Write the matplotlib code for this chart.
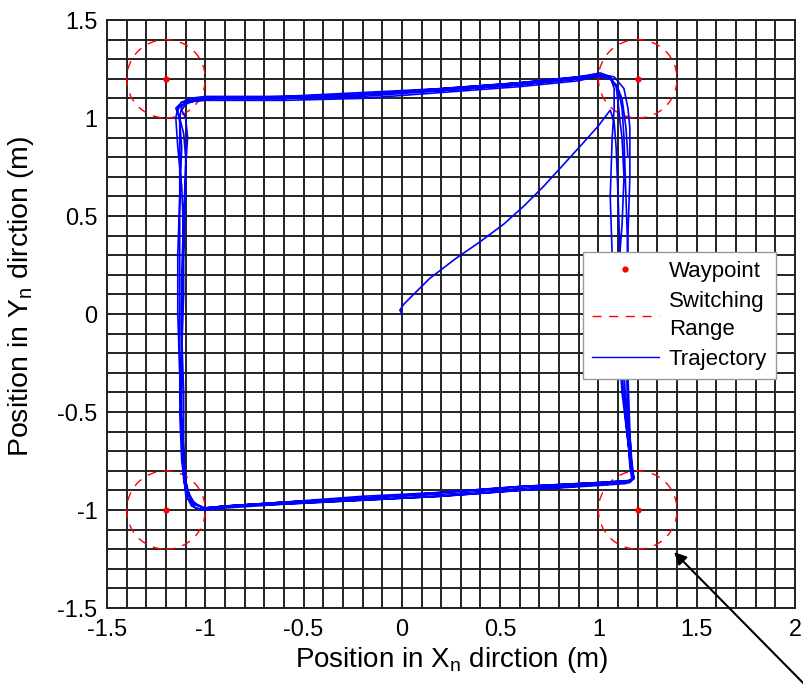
import numpy as np
import matplotlib.pyplot as plt
from matplotlib.patches import Circle
from matplotlib.lines import Line2D

plt.rcParams['font.family'] = ['Liberation Sans', 'DejaVu Sans']
plt.rcParams['axes.unicode_minus'] = False

# waypoints and switching range
wp_x = [-1.2, 1.2, 1.2, -1.2]
wp_y = [1.2, 1.2, -1.0, -1.0]
switch_r = 0.2

# start leg, from origin to the first waypoint
start_x = [0.0, -0.01, 0.01, 0.06, 0.14, 0.27, 0.40, 0.52, 0.62, 0.72, 0.82, 0.92, 1.00, 1.06]
start_y = [0.0, 0.02, 0.05, 0.10, 0.18, 0.28, 0.37, 0.46, 0.55, 0.65, 0.76, 0.87, 0.96, 1.04]

# laps around the square (clockwise)
lap1_x = [1.08, 1.09, 1.10, 1.11, 1.12, 1.13, 1.15, 1.16, 1.17, 1.14, 1.00, 0.60, 0.20, -0.20, -0.60, -0.90, -1.00,
          -1.05, -1.09, -1.11, -1.12, -1.13, -1.13, -1.13, -1.13, -1.13, -1.13, -1.12, -1.09, -1.00,
          -0.60, -0.20, 0.20, 0.60, 0.90, 1.00, 1.06, 1.10, 1.12]
lap1_y = [0.98, 0.85, 0.60, 0.30, 0.00, -0.30, -0.60, -0.78, -0.84, -0.865, -0.875, -0.90, -0.93, -0.95, -0.97, -0.99, -1.00,
          -0.99, -0.94, -0.85, -0.60, -0.30, 0.00, 0.30, 0.60, 0.85, 1.00, 1.06, 1.09, 1.10,
          1.10, 1.12, 1.14, 1.17, 1.20, 1.21, 1.20, 1.15, 1.05]

lap2_x = [1.13, 1.14, 1.15, 1.15, 1.15, 1.16, 1.17, 1.18, 1.15, 1.00, 0.60, 0.20, -0.20, -0.60, -0.90, -1.01,
          -1.06, -1.10, -1.12, -1.13, -1.12, -1.11, -1.11, -1.12, -1.14, -1.15, -1.14, -1.10, -1.00,
          -0.60, -0.20, 0.20, 0.60, 0.90, 1.02, 1.08, 1.13, 1.15]
lap2_y = [0.90, 0.60, 0.30, 0.00, -0.30, -0.60, -0.80, -0.84, -0.855, -0.865, -0.89, -0.92, -0.94, -0.96, -0.98, -0.99,
          -0.97, -0.90, -0.75, -0.50, -0.20, 0.10, 0.40, 0.65, 0.85, 1.00, 1.05, 1.08, 1.09,
          1.09, 1.10, 1.13, 1.16, 1.19, 1.22, 1.21, 1.15, 1.05]

lap3_x = [1.16, 1.16, 1.15, 1.14, 1.14, 1.15, 1.17, 1.18, 1.16, 1.00, 0.60, 0.20, -0.20, -0.60, -0.90, -1.02,
          -1.07, -1.10, -1.11, -1.12, -1.13, -1.14, -1.14, -1.13, -1.12, -1.13, -1.14, -1.12, -1.08, -1.00,
          -0.60, -0.20, 0.20, 0.60, 0.90, 1.01, 1.06, 1.08, 1.08]
lap3_y = [0.95, 0.70, 0.40, 0.10, -0.20, -0.50, -0.75, -0.83, -0.85, -0.86, -0.88, -0.91, -0.93, -0.96, -0.98, -1.00,
          -0.98, -0.92, -0.80, -0.60, -0.30, 0.00, 0.30, 0.60, 0.85, 0.98, 1.04, 1.08, 1.10, 1.11,
          1.11, 1.12, 1.15, 1.18, 1.21, 1.23, 1.21, 1.15, 1.05]

lap4_x = [1.07, 1.06, 1.07, 1.09, 1.12, 1.14, 1.16, 1.18, 1.16, 1.00, 0.60, 0.20, -0.20, -0.60, -0.90, -1.01,
          -1.06, -1.09, -1.11, -1.12, -1.12, -1.12, -1.11, -1.10, -1.10, -1.11, -1.13, -1.15, -1.12, -1.06, -1.00,
          -0.60, -0.20, 0.20, 0.60, 0.90, 1.00, 1.06, 1.09, 1.10, 1.11]
lap4_y = [0.90, 0.60, 0.30, 0.00, -0.30, -0.55, -0.75, -0.84, -0.86, -0.87, -0.90, -0.93, -0.95, -0.97, -0.98, -0.99,
          -0.96, -0.90, -0.80, -0.55, -0.25, 0.05, 0.35, 0.60, 0.80, 0.92, 1.00, 1.05, 1.08, 1.09, 1.10,
          1.11, 1.13, 1.15, 1.18, 1.21, 1.22, 1.21, 1.16, 1.08, 0.98]

lap5_x = [1.12, 1.13, 1.12, 1.10, 1.10, 1.12, 1.15, 1.17, 1.18, 1.15, 1.00, 0.60, 0.20, -0.20, -0.60, -0.90, -1.00,
          -1.05, -1.08, -1.10, -1.11, -1.11, -1.12, -1.12, -1.11, -1.10, -1.09, -1.10, -1.12, -1.10, -1.05, -1.00,
          -0.60, -0.20, 0.20, 0.60, 0.90, 1.00, 1.05, 1.09, 1.12, 1.14, 1.15]
lap5_y = [0.90, 0.70, 0.45, 0.20, -0.10, -0.40, -0.65, -0.80, -0.84, -0.85, -0.86, -0.88, -0.91, -0.94, -0.96, -0.98, -0.99,
          -0.97, -0.93, -0.85, -0.65, -0.40, -0.10, 0.20, 0.50, 0.75, 0.90, 1.00, 1.04, 1.07, 1.09, 1.10,
          1.10, 1.11, 1.14, 1.17, 1.20, 1.22, 1.21, 1.17, 1.10, 0.95, 0.80]

traj_x = start_x + lap1_x + lap2_x + lap3_x + lap4_x + lap5_x
traj_y = start_y + lap1_y + lap2_y + lap3_y + lap4_y + lap5_y

xtick_vals = [-1.5, -1, -0.5, 0, 0.5, 1, 1.5, 2]
xtick_labels = ['-1.5', '-1', '-0.5', '0', '0.5', '1', '1.5', '2']
ytick_vals = [-1.5, -1, -0.5, 0, 0.5, 1, 1.5]
ytick_labels = ['-1.5', '-1', '-0.5', '0', '0.5', '1', '1.5']

fig = plt.figure(figsize=(8.04, 6.94), dpi=100)
ax = fig.add_axes([0.1331, 0.1239, 0.8557, 0.8473])

ax.set_xlim(-1.5, 2)
ax.set_ylim(-1.5, 1.5)
ax.set_xticks(xtick_vals)
ax.set_xticklabels(xtick_labels)
ax.set_yticks(ytick_vals)
ax.set_yticklabels(ytick_labels)
ax.set_xticks(np.arange(-1.5, 2.01, 0.1), minor=True)
ax.set_yticks(np.arange(-1.5, 1.51, 0.1), minor=True)
ax.tick_params(which='both', length=0, labelsize=16.8, pad=7)
ax.grid(True, which='both', color='#222222', linewidth=1.4)
ax.set_axisbelow(True)
for s in ax.spines.values():
    s.set_color('#222222')
    s.set_linewidth(1.4)

for cx, cy in zip(wp_x, wp_y):
    ax.add_patch(Circle((cx, cy), switch_r, fill=False, edgecolor='red',
                        linewidth=1.0, linestyle=(0, (6.5, 5.5)), zorder=3))
ax.plot(wp_x, wp_y, 'o', color='red', markersize=3.5, linestyle='none', zorder=4)
ax.plot(traj_x, traj_y, color='blue', linewidth=1.2, zorder=5)

handles = [
    Line2D([], [], marker='o', color='red', markersize=3.5, linestyle='none'),
    Line2D([], [], color='red', linewidth=1.0, linestyle=(0, (6.5, 5.5))),
    Line2D([], [], color='blue', linewidth=1.0),
]
leg = ax.legend(handles, ['Waypoint', 'Switching\nRange', 'Trajectory'],
                loc='upper left', bbox_to_anchor=(0.692, 0.605), fontsize=16,
                handlelength=3.0, handletextpad=0.45, labelspacing=0.42,
                fancybox=False, framealpha=1, edgecolor='#999999',
                borderpad=0.4, borderaxespad=0)
leg.get_frame().set_linewidth(1.0)
for t in leg.get_texts():
    t.set_linespacing(1.4)

ax.set_xlabel('Position in X$_\\mathregular{n}$ dirction (m)', fontsize=20, labelpad=3)
ax.set_ylabel('Position in Y$_\\mathregular{n}$ dirction (m)', fontsize=20.5)
ax.yaxis.set_label_coords(-0.103, 0.53)

ax.annotate('', xy=(1.385, -1.215), xycoords='data',
            xytext=(814, 0), textcoords='figure pixels',
            arrowprops=dict(arrowstyle='-|>', color='black', lw=1.5, mutation_scale=18,
                            shrinkA=0, shrinkB=0),
            annotation_clip=False)

fig.savefig('out.png', dpi=100)
